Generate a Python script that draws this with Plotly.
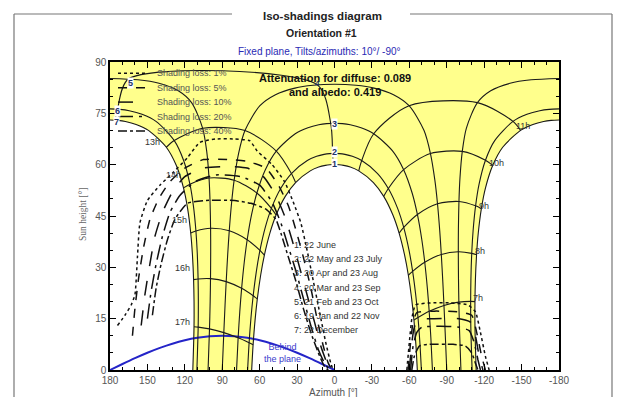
import plotly.graph_objects as go

# ---------------- page geometry (the page body has an 8 px margin) ----------------
OFF = 8
W, H = 607, 389
PLOT_L, PLOT_R, PLOT_T, PLOT_B = 110, 559, 62, 370
ML, MT = PLOT_L - OFF, PLOT_T - OFF
MR, MB = OFF + W - PLOT_R, OFF + H - PLOT_B
PW, PH = PLOT_R - PLOT_L, PLOT_B - PLOT_T


def px_x(px):
    return (px - PLOT_L) / PW


def px_y(py):
    return (PLOT_B - py) / PH


# ---------------- data ----------------
# Sun paths, morning half: sunrise -> solar noon.  |azimuth| from North and sun height
D1_AZ = [66.40, 65.26, 63.69, 61.88, 59.21, 56.21, 51.80, 46.83, 39.46, 31.20, 19.43, 12.65, 7.31, 3.78, 0]
D1_EL = [0, 7.41, 14.58, 20.77, 27.69, 33.57, 40.01, 45.29, 50.74, 54.78, 58.19, 59.29, 59.80, 59.99, 60.06]
D2_AZ = [69.66, 68.47, 66.95, 65.20, 62.65, 59.77, 55.50, 50.61, 43.17, 34.55, 21.79, 14.33, 8.38, 3.90, 0]
D2_EL = [0, 7.98, 15.34, 21.70, 28.84, 34.94, 41.66, 47.22, 53.03, 57.41, 61.19, 62.43, 63.01, 63.24, 63.30]
D3_AZ = [78.52, 77.26, 75.92, 74.46, 72.36, 70.01, 66.46, 62.25, 55.44, 46.66, 31.45, 21.30, 12.63, 6.36, 0]
D3_EL = [0, 9.41, 17.14, 23.86, 31.48, 38.07, 45.45, 51.73, 58.54, 63.97, 69.03, 70.79, 71.66, 71.99, 72.10]
D4_AZ = [90, 88.74, 87.77, 86.84, 85.63, 84.38, 82.58, 80.47, 76.93, 71.80, 59.78, 47.32, 31.71, 17.24, 0]
D4_EL = [0, 10.93, 18.87, 25.82, 33.75, 40.68, 48.58, 55.46, 63.25, 69.96, 77.24, 80.46, 82.37, 83.20, 83.50]
D5_AZ = [101.37, 100.22, 99.70, 99.41, 99.27, 99.35, 99.78, 100.60, 102.45, 105.70, 114.61, 125.25, 140.74, 157.67, 180]
D5_EL = [0, 12.01, 19.84, 26.70, 34.54, 41.40, 49.24, 56.09, 63.88, 70.63, 78.12, 81.58, 83.77, 84.80, 85.20]
D6_AZ = [110.34, 109.31, 109.17, 109.37, 110.03, 111.11, 113.12, 115.92, 121.04, 128.45, 143.13, 154.30, 164.58, 172.13, 180]
D6_EL = [0, 12.53, 20.04, 26.61, 34.09, 40.61, 47.97, 54.31, 61.30, 67.04, 72.64, 74.71, 75.76, 76.16, 76.30]
D7_AZ = [113.60, 112.63, 112.62, 112.98, 113.90, 115.28, 117.76, 121.07, 126.89, 134.84, 149.18, 159.07, 167.63, 173.71, 180]
D7_EL = [0, 12.65, 19.99, 26.40, 33.69, 40.03, 47.14, 53.21, 59.81, 65.09, 70.03, 71.77, 72.63, 72.95, 73.06]

DATE_LEGEND = ["1: 22 June", "2: 22 May and 23 July", "3: 20 Apr and 23 Aug",
               "4: 20 Mar and 23 Sep", "5: 21 Feb and 23 Oct", "6: 19 Jan and 22 Nov",
               "7: 22 December"]
DATE_LABEL_AZ = [-0.2, -0.2, -0.2, 13.9, 163.6, 173.6, 174.6]
DATE_LABEL_EL = [60.2, 63.6, 71.9, 83.6, 84.0, 75.8, 72.6]

# hour lines: index of the hour in the sun-path arrays
HOURS_AM = [7, 8, 9, 10, 11]
HOURS_AM_IDX = [2, 4, 6, 8, 10]
HOURS_PM = [13, 14, 15, 16, 17]
HOURS_PM_IDX = [9, 7, 5, 3, 1]
H12_AZ = [1.0, 1.5, 3.0, 14.0, 165.0, 174.0, 176.0]
H12_EL = [60.0, 63.4, 72.0, 83.4, 85.1, 76.2, 73.0]

HOUR_LABELS = ["7h", "8h", "9h", "10h", "11h", "13h", "14h", "15h", "16h", "17h"]
HOUR_LABEL_AZ = [-115, -117, -120, -130, -151, 146, 129, 124, 122, 122]
HOUR_LABEL_EL = [21, 34.7, 48, 60.6, 71.4, 66.6, 57, 43.7, 29.7, 14]

# plane horizon (behind the plane)
BEHIND_AZ = [180, 170, 160, 150, 140, 130, 120, 110, 100, 90, 80, 70, 60, 50, 40, 30, 20, 10, 0]
BEHIND_EL = [0, 1.75, 3.45, 5.04, 6.47, 7.69, 8.68, 9.41, 9.85, 10, 9.85, 9.41, 8.68, 7.69, 6.47, 5.04, 3.45, 1.75, 0]

# iso-shading lines
ISO_NAMES = ["Shading loss: 1%", "Shading loss: 5%", "Shading loss: 10%",
             "Shading loss: 20%", "Shading loss: 40%"]
ISO_L1_AZ = [174, 168, 163, 160, 158, 156, 150, 140, 130, 118, 108, 95, 80, 68, 62, 50, 40, 33, 27, 22, 17, 12, 7, 3, 1]
ISO_L1_EL = [13, 16, 19, 22, 33, 43, 49.5, 54, 57.5, 62, 66.5, 67.5, 67.5, 67, 64, 60, 55, 49, 43, 35, 26, 17, 8, 2, 0]
ISO_L2_AZ = [162, 160, 157, 153, 148, 141, 132, 120, 105, 85, 70, 55, 45, 37, 31, 25, 19, 14, 9, 5, 2]
ISO_L2_EL = [10, 18, 27, 36, 44, 50, 55, 59, 61.5, 61.5, 61, 59, 54, 48, 41, 33, 24, 15, 7, 2, 0]
ISO_L3_AZ = [155, 152, 148, 144, 138, 130, 120, 105, 85, 70, 57, 47, 40, 34, 28, 22, 16, 11, 6, 3]
ISO_L3_EL = [13, 22, 31, 39, 46, 52, 56.5, 59, 59.5, 59, 56.5, 51, 45, 38, 30, 22, 14, 7, 2, 0]
ISO_L4_AZ = [150, 147, 143, 138, 132, 124, 112, 95, 75, 60, 50, 43, 37, 31, 25, 19, 13, 8, 4]
ISO_L4_EL = [15, 23, 31, 39, 46, 51, 55, 57, 56.5, 54, 49, 43, 36, 29, 21, 13, 6, 2, 0]
ISO_L5_AZ = [146, 143, 139, 134, 128, 118, 100, 80, 67, 55, 47, 43, 37, 31, 25, 19, 13, 8, 5]
ISO_L5_EL = [16, 24, 31, 38, 44, 48.7, 49.6, 49.5, 48.7, 47, 44, 40, 33, 26, 18, 11, 5, 1, 0]

ISO_R1_AZ = [-58, -60, -62, -65, -77, -93, -107, -113, -117, -121, -124]
ISO_R1_EL = [0, 8, 15, 19, 19.6, 19.6, 19, 17, 11, 4, 0]
ISO_R2_AZ = [-59, -61, -63, -66, -80, -100, -110, -114, -118, -121]
ISO_R2_EL = [0, 8, 14, 16.8, 17.2, 17, 16, 11, 4, 0]
ISO_R3_AZ = [-60, -62, -64, -68, -80, -100, -109, -113, -116, -119]
ISO_R3_EL = [0, 8, 12.5, 14.8, 15, 15, 14, 10, 4, 0]
ISO_R4_AZ = [-61, -63, -66, -70, -85, -100, -108, -112, -115, -117]
ISO_R4_EL = [0, 7, 11, 12.5, 12.8, 12.5, 11.5, 8, 3, 0]
ISO_R5_AZ = [-62, -64, -68, -75, -95, -105, -110, -113, -115]
ISO_R5_EL = [0, 4, 7, 7.5, 7.5, 7, 5, 2, 0]

X_TICKS = [180, 150, 120, 90, 60, 30, 0, -30, -60, -90, -120, -150, -180]
Y_TICKS = [0, 15, 30, 45, 60, 75, 90]

# ---------------- styles ----------------
YELLOW = "#ffff8c"
FONT = "Liberation Sans, Arial, sans-serif"
ISO_DASH = ["dot", "dash", "longdash", "longdashdot", "dashdot"]

DATES_AZ = [D1_AZ, D2_AZ, D3_AZ, D4_AZ, D5_AZ, D6_AZ, D7_AZ]
DATES_EL = [D1_EL, D2_EL, D3_EL, D4_EL, D5_EL, D6_EL, D7_EL]
ISO_L = [(ISO_L1_AZ, ISO_L1_EL), (ISO_L2_AZ, ISO_L2_EL), (ISO_L3_AZ, ISO_L3_EL),
         (ISO_L4_AZ, ISO_L4_EL), (ISO_L5_AZ, ISO_L5_EL)]
ISO_R = [(ISO_R1_AZ, ISO_R1_EL), (ISO_R2_AZ, ISO_R2_EL), (ISO_R3_AZ, ISO_R3_EL),
         (ISO_R4_AZ, ISO_R4_EL), (ISO_R5_AZ, ISO_R5_EL)]

fig = go.Figure()


def full_day(az, el):
    xs = [-a for a in az] + [a for a in reversed(az[:-1])]
    ys = list(el) + list(reversed(el[:-1]))
    return xs, ys


# white holes (where the sun never goes)
jx, jy = full_day(D1_AZ, D1_EL)
fig.add_trace(go.Scatter(x=jx, y=jy, fill="toself", fillcolor="white", mode="lines",
                         line=dict(width=0), showlegend=False, hoverinfo="skip"))
fig.add_trace(go.Scatter(x=list(D7_AZ) + [180], y=list(D7_EL) + [0], fill="toself",
                         fillcolor="white", mode="lines", line=dict(width=0),
                         showlegend=False, hoverinfo="skip"))
fig.add_trace(go.Scatter(x=[-a for a in D7_AZ] + [-180], y=list(D7_EL) + [0], fill="toself",
                         fillcolor="white", mode="lines", line=dict(width=0),
                         showlegend=False, hoverinfo="skip"))

# behind the plane
fig.add_trace(go.Scatter(x=BEHIND_AZ, y=BEHIND_EL, mode="lines",
                         line=dict(color="#2424c8", width=2, shape="spline"),
                         showlegend=False, hoverinfo="skip"))

LINE = dict(color="#1a1a1a", width=1.1, shape="spline", smoothing=0.8)

# sun paths
for i in range(7):
    az, el = DATES_AZ[i], DATES_EL[i]
    if i < 4:
        xs, ys = full_day(az, el)
        fig.add_trace(go.Scatter(x=xs, y=ys, mode="lines", line=LINE,
                                 showlegend=False, hoverinfo="skip"))
    else:
        fig.add_trace(go.Scatter(x=[-a for a in az], y=el, mode="lines", line=LINE,
                                 showlegend=False, hoverinfo="skip"))
        fig.add_trace(go.Scatter(x=list(az), y=el, mode="lines", line=LINE,
                                 showlegend=False, hoverinfo="skip"))

# hour lines
for h, idx in zip(HOURS_AM, HOURS_AM_IDX):
    fig.add_trace(go.Scatter(x=[-DATES_AZ[d][idx] for d in range(7)],
                             y=[DATES_EL[d][idx] for d in range(7)],
                             mode="lines", line=LINE, showlegend=False, hoverinfo="skip"))
for h, idx in zip(HOURS_PM, HOURS_PM_IDX):
    fig.add_trace(go.Scatter(x=[DATES_AZ[d][idx] for d in range(7)],
                             y=[DATES_EL[d][idx] for d in range(7)],
                             mode="lines", line=LINE, showlegend=False, hoverinfo="skip"))
fig.add_trace(go.Scatter(x=H12_AZ, y=H12_EL, mode="lines", line=LINE,
                         showlegend=False, hoverinfo="skip"))

# iso-shading lines
for k in range(5):
    lx, ly = ISO_L[k]
    rx, ry = ISO_R[k]
    style = dict(color="#111111", width=1.5, dash=ISO_DASH[k], shape="spline", smoothing=0.5)
    fig.add_trace(go.Scatter(x=lx, y=ly, mode="lines", line=style, name=ISO_NAMES[k],
                             showlegend=False, hoverinfo="skip"))
    fig.add_trace(go.Scatter(x=rx, y=ry, mode="lines", line=style, name=ISO_NAMES[k],
                             showlegend=False, hoverinfo="skip"))

ann = []
shapes = []


def text(t, x, y, size, color, xref="paper", yref="paper", xanchor="center", **kw):
    fam = kw.pop("family", FONT)
    d = dict(text=t, x=x, y=y, xref=xref, yref=yref, xanchor=xanchor, yanchor="middle",
             showarrow=False, font=dict(size=size, color=color, family=fam))
    d.update(kw)
    ann.append(d)


# compact legend for the iso-shading lines (top-left, inside the plot)
for k in range(5):
    row_y = px_y(73.3 + 14.4 * k)
    shapes.append(dict(type="line", xref="paper", yref="paper", x0=px_x(118), x1=px_x(146),
                       y0=row_y, y1=row_y,
                       line=dict(color="#111111", width=1.5, dash=ISO_DASH[k])))
    text(ISO_NAMES[k], px_x(155), row_y, 9, "#555", xanchor="left")

# titles
text("<b>Iso-shadings diagram</b>", px_x(322), px_y(15.5), 11.5, "#222")
text("<b>Orientation #1</b>", px_x(321), px_y(33), 10.5, "#222")
text("Fixed plane, Tilts/azimuths: 10°/ -90°", px_x(319), px_y(52), 10, "#2a2ab4")
text("<b>Attenuation for diffuse: 0.089<br>and albedo: 0.419</b>", px_x(335), px_y(85),
     11, "#111", align="center")
# axis titles
text("Azimuth [°]", px_x(333), px_y(392), 10, "#555")
text("Sun height [°]", px_x(83), px_y(215), 9.5, "#666", textangle=-90,
     family="Liberation Serif, serif")
# behind the plane
text("Behind<br>the plane", 42, 5, 9, "#3a3acc", xref="x", yref="y")
# date list
for i, t in enumerate(DATE_LEGEND):
    text(t, px_x(292), px_y(245 + 14.2 * i), 9, "#333", xanchor="left")
# date bubbles (label 4 sits directly on the yellow)
for i in range(7):
    text("<b>%d</b>" % (i + 1), DATE_LABEL_AZ[i], DATE_LABEL_EL[i],
         8 if i == 3 else 9, "#223366", xref="x", yref="y",
         bgcolor="rgba(0,0,0,0)" if i == 3 else "white", borderpad=0)
# hour labels
for t, a, e in zip(HOUR_LABELS, HOUR_LABEL_AZ, HOUR_LABEL_EL):
    text(t, a, e, 9, "#333", xref="x", yref="y")

# group frame around the chart
FRAME = dict(color="#777", width=1.2)
shapes.append(dict(type="line", xref="paper", yref="paper", x0=px_x(14), x1=px_x(232),
                   y0=px_y(14), y1=px_y(14), line=FRAME))
shapes.append(dict(type="line", xref="paper", yref="paper", x0=px_x(410), x1=px_x(612),
                   y0=px_y(14), y1=px_y(14), line=FRAME))
shapes.append(dict(type="line", xref="paper", yref="paper", x0=px_x(14), x1=px_x(14),
                   y0=px_y(14), y1=px_y(404), line=FRAME))
shapes.append(dict(type="line", xref="paper", yref="paper", x0=px_x(612), x1=px_x(612),
                   y0=px_y(14), y1=px_y(404), line=FRAME))

fig.update_layout(
    width=W, height=H, margin=dict(l=ML, r=MR, t=MT, b=MB, pad=0),
    paper_bgcolor="white", plot_bgcolor=YELLOW,
    font=dict(family=FONT, size=10, color="#555"),
    annotations=ann, shapes=shapes, showlegend=False,
    xaxis=dict(range=[180, -180], tickmode="array", tickvals=X_TICKS,
               ticktext=[str(v) for v in X_TICKS], ticks="inside", ticklen=6,
               tickcolor="black", showline=True, linecolor="black", linewidth=1.5,
               mirror="ticks", showgrid=False, zeroline=False,
               tickfont=dict(size=10, color="#555"),
               minor=dict(tick0=0, dtick=10, ticks="inside", ticklen=3, tickcolor="black")),
    yaxis=dict(range=[0, 90], tickmode="array", tickvals=Y_TICKS, ticks="inside", ticklen=6,
               tickcolor="black", showline=True, linecolor="black", linewidth=1.5,
               mirror="ticks", showgrid=False, zeroline=False,
               tickfont=dict(size=10, color="#555"),
               minor=dict(tick0=0, dtick=5, ticks="inside", ticklen=3, tickcolor="black")),
)

fig.write_html("out.html")
